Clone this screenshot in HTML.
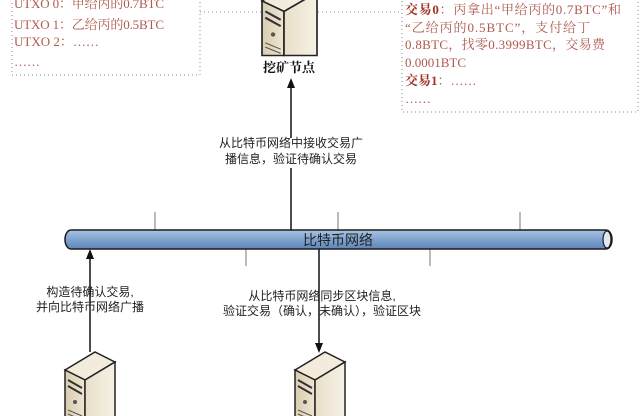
<!DOCTYPE html>
<html><head><meta charset="utf-8"><style>
html,body{margin:0;padding:0;background:#fff;}
svg{display:block;}
.t{font-family:"Liberation Serif","Noto Serif CJK SC",serif;font-size:13px;fill:#b05a4e;}
.b{font-weight:bold;fill:#a0342a;}
.k{font-family:"Liberation Sans","Noto Sans CJK SC",sans-serif;font-size:12px;fill:#222;}
</style></head><body>
<svg width="640" height="416" viewBox="0 0 640 416" xmlns="http://www.w3.org/2000/svg">
<defs>
<linearGradient id="pipe" x1="0" y1="0" x2="0" y2="1">
<stop offset="0" stop-color="#a9c4e2"/><stop offset="0.5" stop-color="#7fa3cf"/><stop offset="1" stop-color="#5f85b8"/></linearGradient>
<linearGradient id="front" x1="0" y1="0" x2="1" y2="0">
<stop offset="0" stop-color="#d8ccb0"/><stop offset="1" stop-color="#efe6d2"/></linearGradient>
<linearGradient id="side" x1="0" y1="0" x2="1" y2="0">
<stop offset="0" stop-color="#e8dec8"/><stop offset="1" stop-color="#f7f2e6"/></linearGradient>
<g id="srv">
<polygon points="0,18 30,0 50,10 20,28" fill="#f3ecdd" stroke="#222" stroke-width="1.5"/>
<polygon points="0,18 20,28 20,70 0,70" fill="url(#front)" stroke="#222" stroke-width="1.5"/>
<polygon points="20,28 50,10 50,70 20,70" fill="url(#side)" stroke="#222" stroke-width="1.5"/>
<line x1="3" y1="28" x2="17" y2="36" stroke="#333" stroke-width="2"/>
<line x1="3" y1="34" x2="17" y2="42" stroke="#333" stroke-width="2"/>
<circle cx="10" cy="50" r="2" fill="#555"/>
<line x1="3" y1="58" x2="17" y2="64" stroke="#555"/>
<line x1="3" y1="62" x2="17" y2="68" stroke="#555"/>
</g>
</defs>

<rect x="12" y="-2" width="188" height="77" fill="none" stroke="#888" stroke-dasharray="1,3"/>
<text class="t" x="14" y="8" textLength="150">UTXO 0：甲给丙的0.7BTC</text>
<text class="t" x="14" y="29" textLength="150">UTXO 1：乙给丙的0.5BTC</text>
<text class="t" x="14" y="46">UTXO 2：……</text>
<text class="t" x="14" y="66">……</text>
<line x1="200" y1="12" x2="262" y2="12" stroke="#888" stroke-dasharray="1,3"/>
<line x1="318" y1="12" x2="402" y2="12" stroke="#888" stroke-dasharray="1,3"/>

<rect x="402" y="-2" width="236" height="114" fill="none" stroke="#888" stroke-dasharray="1,3"/>
<text class="t" x="405" y="14" textLength="216"><tspan class="b">交易0</tspan>：丙拿出“甲给丙的0.7BTC”和</text>
<text class="t" x="405" y="32" textLength="185">“乙给丙的0.5BTC”，支付给丁</text>
<text class="t" x="405" y="49" textLength="200">0.8BTC，找零0.3999BTC，交易费</text>
<text class="t" x="405" y="67">0.0001BTC</text>
<text class="t" x="405" y="85"><tspan class="b">交易1</tspan>：……</text>
<text class="t" x="405" y="103">……</text>

<g transform="translate(262,-18) scale(1.1,1.05)">
<use href="#srv"/>
</g>
<text x="289" y="72" text-anchor="middle" style="font-family:'Liberation Serif','Noto Serif CJK SC',serif;font-size:13px;font-weight:bold;fill:#111">挖矿节点</text>

<line x1="291" y1="88" x2="291" y2="138" stroke="#111" stroke-width="1.5"/>
<line x1="291" y1="168" x2="291" y2="231" stroke="#111" stroke-width="1.5"/>
<polygon points="291,78 287,88 295,88" fill="#111"/>
<text class="k" x="291" y="147" text-anchor="middle">从比特币网络中接收交易广</text>
<text class="k" x="291" y="163" text-anchor="middle">播信息，验证待确认交易</text>

<line x1="155" y1="212" x2="155" y2="231" stroke="#777"/>
<line x1="338" y1="212" x2="338" y2="231" stroke="#777"/>
<line x1="520" y1="212" x2="520" y2="231" stroke="#777"/>
<line x1="246" y1="248" x2="246" y2="266" stroke="#777"/>
<line x1="430" y1="248" x2="430" y2="266" stroke="#777"/>

<rect x="65" y="230" width="547" height="19" rx="6" ry="9.5" fill="url(#pipe)" stroke="#1a1a1a" stroke-width="1.5"/>
<ellipse cx="607" cy="239.5" rx="4" ry="8.5" fill="#dde8f4" stroke="#1a1a1a" stroke-width="1.2"/>
<text class="k" x="338" y="245" text-anchor="middle" style="font-size:14px">比特币网络</text>

<line x1="90" y1="258" x2="90" y2="352" stroke="#111" stroke-width="1.5"/>
<polygon points="90,249 86,259 94,259" fill="#111"/>
<text class="k" x="90" y="296" text-anchor="middle">构造待确认交易,</text>
<text class="k" x="90" y="311" text-anchor="middle">并向比特币网络广播</text>

<line x1="319" y1="249" x2="319" y2="343" stroke="#111" stroke-width="1.5"/>
<polygon points="319,353 315,343 323,343" fill="#111"/>
<text class="k" x="322" y="300" text-anchor="middle">从比特币网络同步区块信息,</text>
<text class="k" x="322" y="315" text-anchor="middle">验证交易（确认，未确认），验证区块</text>

<g transform="translate(65,352)"><use href="#srv"/></g>
<g transform="translate(295,352)"><use href="#srv"/></g>
</svg>
</body></html>
